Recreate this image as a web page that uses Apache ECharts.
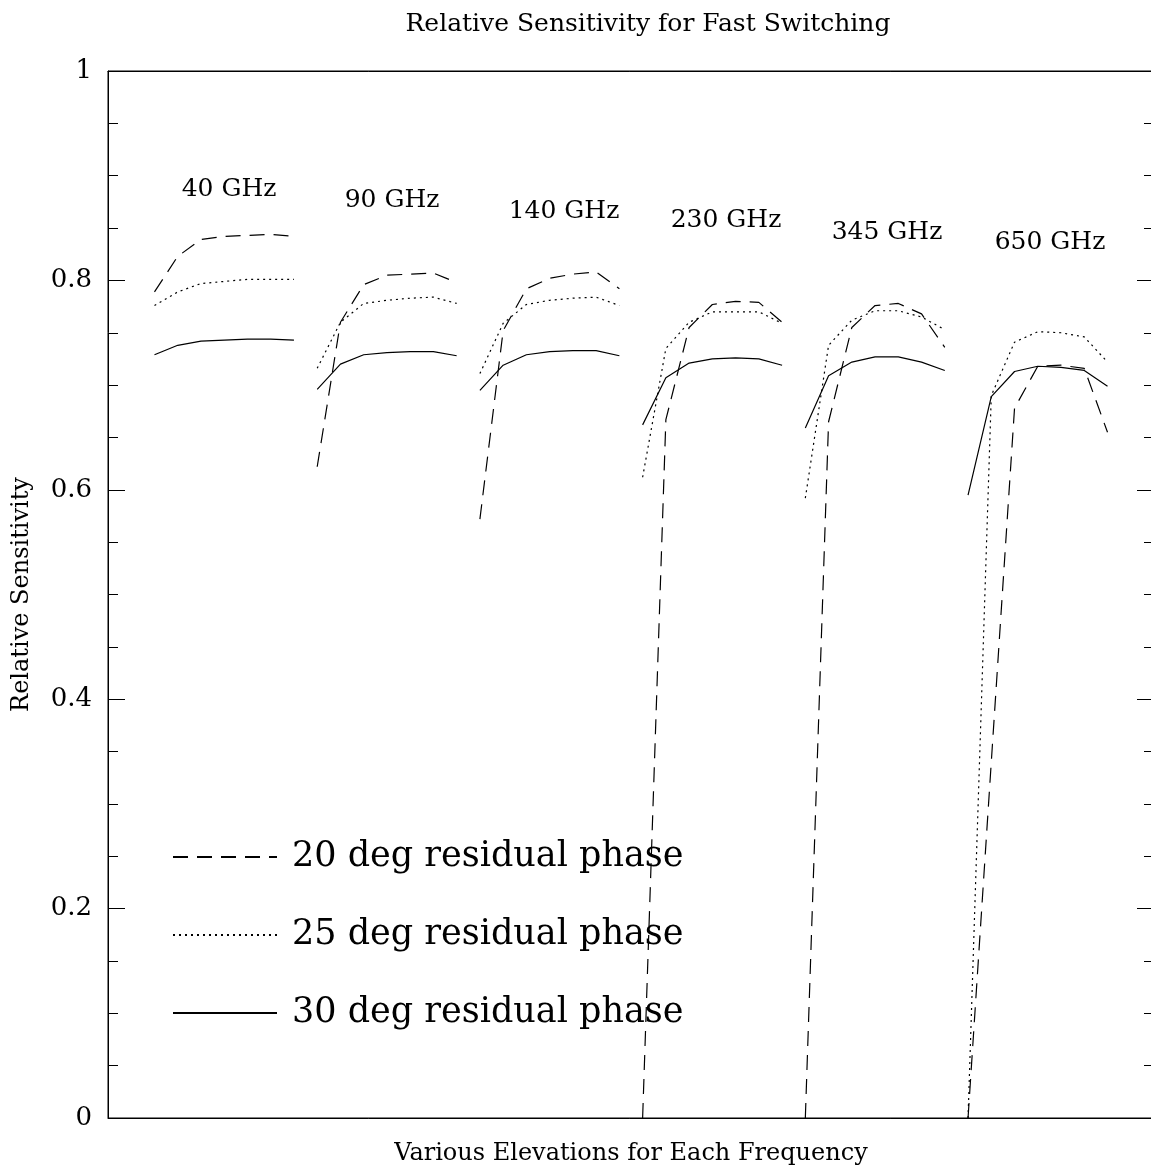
<!DOCTYPE html>
<html>
<head>
<meta charset="utf-8">
<script src="https://cdn.jsdelivr.net/npm/echarts@6/dist/echarts.min.js"></script>
<style>
html,body{margin:0;padding:0;background:#fff;}
#chart{width:1151px;height:1170px;}
</style>
</head>
<body>
<div id="chart"></div>
<script>
// ---- data ----
const frequencies = ['40 GHz', '90 GHz', '140 GHz', '230 GHz', '345 GHz', '650 GHz'];
const seriesNames = ['20 deg residual phase', '25 deg residual phase', '30 deg residual phase'];
// 7 elevations per frequency, relative sensitivity
const phase20 = [
  [0.789, 0.823, 0.839, 0.842, 0.843, 0.844, 0.842],
  [0.622, 0.760, 0.796, 0.805, 0.806, 0.807, 0.798],
  [0.572, 0.752, 0.792, 0.802, 0.806, 0.808, 0.792],
  [0.000, 0.667, 0.755, 0.777, 0.780, 0.779, 0.760],
  [0.000, 0.665, 0.755, 0.776, 0.778, 0.768, 0.736],
  [0.000, 0.340, 0.678, 0.718, 0.719, 0.716, 0.655]
];
const phase25 = [
  [0.776, 0.789, 0.797, 0.799, 0.801, 0.801, 0.801],
  [0.716, 0.760, 0.778, 0.781, 0.783, 0.784, 0.778],
  [0.711, 0.759, 0.777, 0.781, 0.783, 0.784, 0.776],
  [0.612, 0.735, 0.760, 0.770, 0.770, 0.770, 0.759],
  [0.592, 0.738, 0.762, 0.771, 0.771, 0.765, 0.753],
  [0.000, 0.690, 0.741, 0.751, 0.750, 0.746, 0.722]
];
const phase30 = [
  [0.729, 0.738, 0.742, 0.743, 0.744, 0.744, 0.743],
  [0.696, 0.720, 0.729, 0.731, 0.732, 0.732, 0.728],
  [0.695, 0.719, 0.729, 0.732, 0.733, 0.733, 0.728],
  [0.662, 0.707, 0.721, 0.725, 0.726, 0.725, 0.719],
  [0.659, 0.709, 0.722, 0.727, 0.727, 0.722, 0.714],
  [0.595, 0.689, 0.713, 0.718, 0.717, 0.714, 0.699]
];
const yTicks = [0, 0.2, 0.4, 0.6, 0.8, 1];

// ---- build ----
function toData(groups) {
  const out = [];
  let idx = 0;
  groups.forEach((g, gi) => {
    if (gi > 0) out.push([idx - 0.5, '-']);
    g.forEach(v => { out.push([idx, v]); idx++; });
  });
  return out;
}

const FONT = 'DejaVu Serif';
const lineTypes = [[15, 9], [2, 4], 'solid'];
const allData = [phase20, phase25, phase30];

const series = allData.map((d, i) => ({
  name: seriesNames[i],
  type: 'line',
  xAxisIndex: 0,
  yAxisIndex: 0,
  data: toData(d),
  symbol: 'none',
  showSymbol: false,
  connectNulls: false,
  lineStyle: { color: '#000', width: 1.2, type: lineTypes[i] },
  itemStyle: { color: '#000' },
  animation: false,
  silent: true
}));

const labelPix = [[229, 189], [392, 200], [564, 211], [726, 220], [887, 232], [1050, 242]];

const tickAxis = (pos) => ({
  type: 'value', min: 0, max: 1, interval: 0.2, position: pos,
  axisLine: { show: pos === 'left', onZero: false, lineStyle: { color: '#000', width: 1 } },
  axisTick: { show: true, inside: true, length: 17, lineStyle: { color: '#000', width: 1 } },
  minorTick: { show: true, splitNumber: 4, length: 10, lineStyle: { color: '#000', width: 1 } },
  axisLabel: { show: false },
  splitLine: { show: false }
});

const chart = echarts.init(document.getElementById('chart'), null, { renderer: 'canvas' });
chart.setOption({
  backgroundColor: '#fff',
  animation: false,
  title: {
    text: 'Relative Sensitivity for Fast Switching',
    left: 643,
    textAlign: 'center',
    top: 7,
    textStyle: { fontFamily: FONT, fontSize: 25, fontWeight: 'normal', color: '#000' }
  },
  legend: {
    data: seriesNames,
    orient: 'vertical',
    left: 172,
    top: 837,
    padding: 0,
    itemWidth: 104,
    itemHeight: 14,
    itemGap: 38,
    itemStyle: { opacity: 0, color: 'transparent', borderColor: 'transparent', borderWidth: 0 },
    textStyle: { fontFamily: FONT, fontSize: 35, color: '#000', lineHeight: 40, padding: [0, 0, 0, 10] }
  },
  grid: { left: 108, top: 71, width: 1046, height: 1047, containLabel: false, outerBoundsMode: 'none',
          show: true, borderColor: '#000', borderWidth: 1, backgroundColor: 'transparent' },
  xAxis: [
    {
      type: 'value', min: -2, max: 43, position: 'bottom',
      name: 'Various Elevations for Each Frequency',
      nameLocation: 'middle', nameGap: 24,
      nameTextStyle: { fontFamily: FONT, fontSize: 24, color: '#000' },
      axisLine: { show: true, onZero: false, lineStyle: { color: '#000', width: 1 } },
      axisTick: { show: false }, axisLabel: { show: false }, splitLine: { show: false }
    },
    {
      type: 'value', min: -2, max: 43, position: 'top',
      axisLine: { show: true, onZero: false, lineStyle: { color: '#000', width: 1 } },
      axisTick: { show: false }, axisLabel: { show: false }, splitLine: { show: false }
    }
  ],
  yAxis: [
    {
      type: 'value', min: 0, max: 1, interval: 0.2, position: 'left',
      name: 'Relative Sensitivity', nameLocation: 'middle', nameGap: 74,
      nameTextStyle: { fontFamily: FONT, fontSize: 24, color: '#000' },
      axisLine: { show: false, onZero: false },
      axisTick: { show: false },
      axisLabel: {
        fontFamily: FONT, fontSize: 26, color: '#000', margin: 16,
        formatter: v => { const t = yTicks.find(k => Math.abs(k - v) < 1e-9); return t === undefined ? '' : String(t); }
      },
      splitLine: { show: false }
    },
    tickAxis('right'),
    tickAxis('left')
  ],
  graphic: frequencies.map((f, i) => ({
    type: 'text',
    x: labelPix[i][0], y: labelPix[i][1],
    style: { text: f, fontFamily: FONT, fontSize: 25, fill: '#000', textAlign: 'center', textVerticalAlign: 'middle' },
    silent: true
  })),
  series: series
});
</script>
</body>
</html>
